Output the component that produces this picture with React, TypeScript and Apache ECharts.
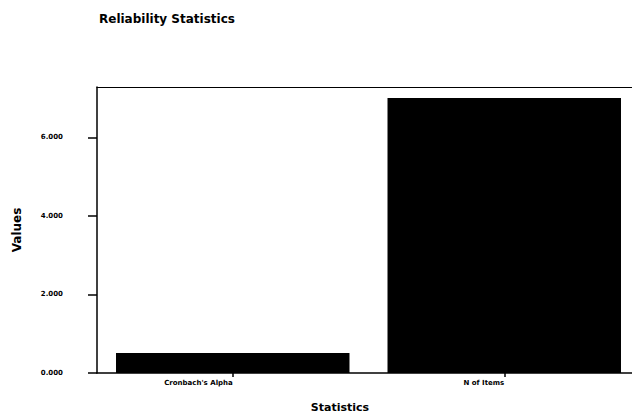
import React, { useEffect, useRef } from "react";
import * as echarts from "echarts";

const categories = ["Cronbach's Alpha", "N of Items"];
const values = [0.51, 7];
const yTicks = [0, 2, 4, 6];
const titleText = "Reliability Statistics";
const xName = "Statistics";
const yName = "Values";

const FONT = "DejaVu Sans";

export default function App() {
  const ref = useRef<HTMLDivElement>(null);
  useEffect(() => {
    if (!ref.current) return;
    const chart = echarts.init(ref.current, null, { renderer: "svg" });
    chart.setOption({
      animation: false,
      backgroundColor: "#ffffff",
      title: {
        text: titleText,
        left: 94,
        top: 8,
        textStyle: { fontFamily: FONT, fontWeight: "bold", fontSize: 12, color: "#000" },
      },
      grid: { left: 97, right: 0, top: 87, bottom: 46, containLabel: false },
      xAxis: [
        {
          type: "category",
          data: categories,
          axisLine: { show: true, lineStyle: { color: "#000", width: 1.5 } },
          axisTick: { show: true, alignWithLabel: true, length: 4, lineStyle: { color: "#000", width: 1.5 } },
          axisLabel: {
            align: "right",
            margin: 6,
            fontFamily: FONT,
            fontWeight: "bold",
            fontSize: 7,
            color: "#000",
          },
        },
        {
          type: "category",
          position: "top",
          data: categories,
          axisLine: { show: true, lineStyle: { color: "#000", width: 1.2 } },
          axisTick: { show: false },
          axisLabel: { show: false },
        },
      ],
      yAxis: {
        type: "value",
        min: 0,
        max: 7.28,
        interval: 2,
        name: yName,
        nameLocation: "middle",
        nameGap: 74,
        nameTextStyle: { fontFamily: FONT, fontWeight: "bold", fontSize: 12, color: "#000" },
        splitLine: { show: false },
        axisLine: { show: true, lineStyle: { color: "#000", width: 1.5 } },
        axisTick: { show: true, length: 9, customValues: yTicks, lineStyle: { color: "#000", width: 1.5 } },
        axisLabel: {
          customValues: yTicks,
          margin: 34,
          fontFamily: FONT,
          fontWeight: "bold",
          fontSize: 7,
          color: "#000",
          formatter: (v: number) => v.toFixed(3),
        },
      },
      series: [
        {
          type: "bar",
          data: values,
          barCategoryGap: "14%",
          itemStyle: { color: "#000" },
        },
      ],
      graphic: [
        {
          type: "text",
          x: 340,
          y: 407,
          style: {
            text: xName,
            fontFamily: FONT,
            fontWeight: "bold",
            fontSize: 11,
            fill: "#000",
            align: "center",
            verticalAlign: "middle",
          },
        },
      ],
    });
    return () => chart.dispose();
  }, []);
  return (
    <div style={{ position: "absolute", left: 0, top: 0, width: 632, height: 419, overflow: "hidden" }}>
      <div ref={ref} style={{ width: 640, height: 419 }} />
    </div>
  );
}
